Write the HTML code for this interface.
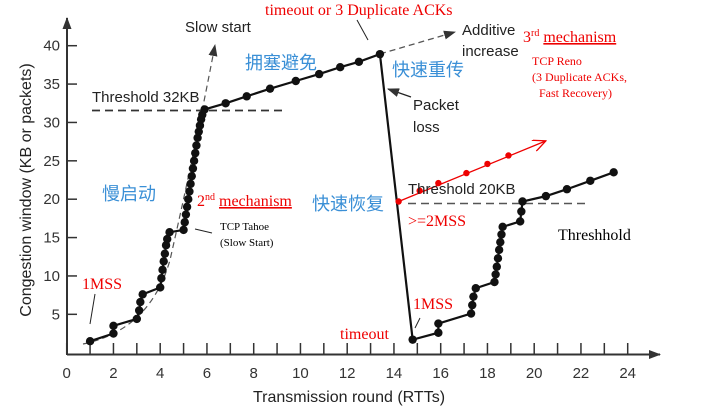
<!DOCTYPE html>
<html><head><meta charset="utf-8"><style>
html,body{margin:0;padding:0;background:#fff;}
svg{display:block;}
.tk{font-family:"Liberation Sans",sans-serif;font-size:15px;fill:#333;}
.sans{font-family:"Liberation Sans",sans-serif;fill:#222;}
.serif{font-family:"Liberation Serif",serif;}
.cjk{font-family:"Liberation Sans","Noto Sans CJK SC",sans-serif;fill:#3a8fd6;font-size:18px;}
</style></head><body>
<svg id="chart" width="706" height="407" viewBox="0 0 706 407">
<defs>
<marker id="ah" markerUnits="userSpaceOnUse" markerWidth="12" markerHeight="9" refX="11" refY="4.5" orient="auto"><path d="M0,0 L12,4.5 L0,9 Z" fill="#333"/></marker>
<marker id="ar" markerUnits="userSpaceOnUse" markerWidth="14" markerHeight="12" refX="13" refY="6" orient="auto"><path d="M0,0 L13,6 L0,12" fill="none" stroke="#e00" stroke-width="1.3"/></marker>
</defs>
<g id="axes"></g>
<g id="annot">
<path d="M83,344 Q150,330 170,260 Q195,150 215,45" fill="none" stroke="#555" stroke-width="1.2" stroke-dasharray="6,4" marker-end="url(#ah)"/>
<line x1="380" y1="54" x2="455" y2="32" stroke="#555" stroke-width="1.3" stroke-dasharray="6,4" marker-end="url(#ah)"/>
<line x1="92" y1="110.5" x2="285" y2="110.5" stroke="#333" stroke-width="1.8" stroke-dasharray="8,5"/>
<line x1="408" y1="203.5" x2="590" y2="203.5" stroke="#555" stroke-width="1.5" stroke-dasharray="8,5"/>
<line x1="411" y1="97" x2="388" y2="89" stroke="#222" stroke-width="1.2" marker-end="url(#ah)"/>
<line x1="357" y1="20" x2="368" y2="40" stroke="#222" stroke-width="1"/>
<line x1="195" y1="229" x2="212" y2="233" stroke="#222" stroke-width="1"/>
<line x1="90" y1="324" x2="95" y2="294" stroke="#222" stroke-width="1"/>
<line x1="415" y1="328" x2="420" y2="318" stroke="#222" stroke-width="1"/>
</g>
<g id="series"></g>
<g>
<text x="265" y="15" class="serif" font-size="16" fill="#e00">timeout or 3 Duplicate ACKs</text>
<text x="185" y="32" class="sans" font-size="15">Slow start</text>
<text x="245" y="69" class="cjk">拥塞避免</text>
<text x="92" y="102" class="sans" font-size="15">Threshold 32KB</text>
<text x="462" y="35" class="sans" font-size="15">Additive</text>
<text x="462" y="56" class="sans" font-size="15">increase</text>
<text x="523" y="42" class="serif" font-size="16" fill="#e00">3<tspan font-size="10" dy="-6">rd</tspan> <tspan dy="6" text-decoration="underline">mechanism</tspan></text>
<text x="532" y="65" class="serif" font-size="12" fill="#e00">TCP Reno</text>
<text x="532" y="81" class="serif" font-size="12" fill="#e00">(3 Duplicate ACKs,</text>
<text x="539" y="97" class="serif" font-size="12" fill="#e00">Fast Recovery)</text>
<text x="392" y="76" class="cjk">快速重传</text>
<text x="413" y="110" class="sans" font-size="15">Packet</text>
<text x="413" y="132" class="sans" font-size="15">loss</text>
<text x="102" y="200" class="cjk">慢启动</text>
<text x="197" y="206" class="serif" font-size="16" fill="#e00">2<tspan font-size="10" dy="-6">nd</tspan> <tspan dy="6" text-decoration="underline">mechanism</tspan></text>
<text x="312" y="210" class="cjk">快速恢复</text>
<text x="408" y="194" class="sans" font-size="15">Threshold 20KB</text>
<text x="408" y="226" class="serif" font-size="16" fill="#e00">&gt;=2MSS</text>
<text x="558" y="240" class="serif" font-size="16" fill="#000">Threshhold</text>
<text x="220" y="230" class="serif" font-size="11" fill="#000">TCP Tahoe</text>
<text x="220" y="246" class="serif" font-size="11" fill="#000">(Slow Start)</text>
<text x="82" y="289" class="serif" font-size="16" fill="#e00">1MSS</text>
<text x="413" y="309" class="serif" font-size="16" fill="#e00">1MSS</text>
<text x="340" y="339" class="serif" font-size="16" fill="#e00">timeout</text>
</g>
</svg>
<script>
const xTicks=[0,2,4,6,8,10,12,14,16,18,20,22,24];
const yTicks=[5,10,15,20,25,30,35,40];
const rounds=[1,2,2,3,3.1,3.15,3.25,4,4.05,4.1,4.15,4.2,4.25,4.3,4.4,5,5.05,5.1,5.15,5.2,5.25,5.3,5.35,5.4,5.45,5.5,5.55,5.6,5.65,5.7,5.75,5.8,5.9,6.8,7.7,8.7,9.8,10.8,11.7,12.5,13.4,14.8,15.9,15.9,17.3,17.35,17.4,17.5,18.3,18.35,18.4,18.45,18.5,18.55,18.6,18.65,19.4,19.45,19.5,20.5,21.4,22.4,23.4];
const cwnd=[1.5,2.5,3.5,4.4,5.5,6.6,7.6,8.5,9.7,10.8,11.9,12.9,14,14.8,15.7,16,17,18,19,20,21,22,23,24,25,26,27,28,28.8,29.6,30.4,31,31.7,32.5,33.4,34.4,35.4,36.3,37.2,37.9,38.9,1.7,2.6,3.8,5.1,6.2,7.3,8.4,9.2,10.2,11.2,12.3,13.4,14.4,15.4,16.4,17.1,18.4,19.7,20.4,21.3,22.4,23.5];
const renoRounds=[14.2,15.1,15.9,17.1,18.0,18.9];
const renoCwnd=[19.7,21.1,22.1,23.4,24.6,25.7];
const renoEnd=[20.5,27.6];
const X=v=>66.7+23.375*v, Y=v=>352.7-7.675*v;
const NS="http://www.w3.org/2000/svg";
function mk(t,a,p){const e=document.createElementNS(NS,t);for(const k in a)e.setAttribute(k,a[k]);p.appendChild(e);return e;}
const ax=document.getElementById('axes');
let l=mk('line',{x1:67,y1:354.5,x2:660,y2:354.5,stroke:'#333','stroke-width':2,'marker-end':'url(#ah)'},ax);


l=mk('line',{x1:67,y1:355,x2:67,y2:18,stroke:'#333','stroke-width':2,'marker-end':'url(#ah)'},ax);


xTicks.forEach(v=>{mk('line',{x1:X(v),y1:343,x2:X(v),y2:354,stroke:'#333','stroke-width':1.5},ax);
const t=mk('text',{x:X(v),y:378,'text-anchor':'middle',class:'tk'},ax);t.textContent=v;

});
for(let v=1;v<24;v+=2)mk('line',{x1:X(v),y1:343,x2:X(v),y2:354,stroke:'#333','stroke-width':1.5},ax);
yTicks.forEach(v=>{mk('line',{x1:67,y1:Y(v),x2:77,y2:Y(v),stroke:'#333','stroke-width':1.5},ax);
const t=mk('text',{x:60,y:Y(v)+5,'text-anchor':'end',class:'tk'},ax);t.textContent=v;

});
let t=mk('text',{x:349,y:402,'text-anchor':'middle',class:'sans','font-size':16},ax);t.textContent='Transmission round (RTTs)';


t=mk('text',{x:0,y:0,transform:'translate(31,190) rotate(-90)','text-anchor':'middle',class:'sans','font-size':16},ax);t.textContent='Congestion window (KB or packets)';


const s=document.getElementById('series');
let p=mk('polyline',{points:rounds.map((r,i)=>X(r)+','+Y(cwnd[i])).join(' '),fill:'none',stroke:'#111','stroke-width':2.2},s);


rounds.forEach((r,i)=>{const c=mk('circle',{cx:X(r),cy:Y(cwnd[i]),r:4.2,fill:'#111'},s);

});
p=mk('line',{x1:X(renoRounds[0]),y1:Y(renoCwnd[0]),x2:X(renoEnd[0]),y2:Y(renoEnd[1]),stroke:'#e00','stroke-width':1.3,'marker-end':'url(#ar)'},s);


renoRounds.forEach((r,i)=>{const c=mk('circle',{cx:X(r),cy:Y(renoCwnd[i]),r:3.2,fill:'#e00'},s);

});
</script>
</body></html>
